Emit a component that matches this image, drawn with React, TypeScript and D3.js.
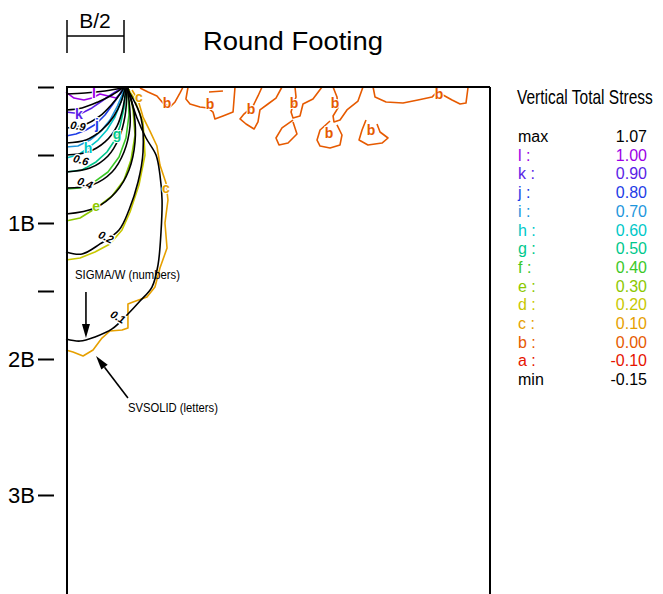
import React, { useRef, useEffect } from 'react';
import * as d3 from 'd3';

// offsets and depths are in units of B (footing width)
const yTicks = [0, 0.5, 1, 1.5, 2, 3];
const yTickLabels = ['', '', '1B', '', '2B', '3B'];

// SIGMA/W contours (black, numbered)
const sigma100 = [[0, 0.051], [0.164, 0.044], [0.336, 0.029], [0.483, 0.007]];
const sigma090 = [[0, 0.169], [0.138, 0.154], [0.276, 0.11], [0.397, 0.059], [0.491, 0.007]];
const sigma080 = [[0, 0.301], [0.155, 0.279], [0.293, 0.213], [0.397, 0.125], [0.466, 0.051], [0.5, 0.007]];
const sigma070 = [[0, 0.412], [0.172, 0.39], [0.31, 0.316], [0.414, 0.213], [0.474, 0.11], [0.509, 0.007]];
const sigma060 = [[0, 0.5], [0.19, 0.478], [0.336, 0.404], [0.44, 0.287], [0.491, 0.154], [0.517, 0.007]];
const sigma050 = [[0, 0.625], [0.207, 0.596], [0.362, 0.507], [0.457, 0.375], [0.509, 0.213], [0.526, 0.007]];
const sigma040 = [[0, 0.743], [0.224, 0.721], [0.397, 0.625], [0.5, 0.478], [0.552, 0.287], [0.543, 0.096], [0.526, 0.007]];
const sigma030 = [[0, 0.934], [0.25, 0.89], [0.431, 0.772], [0.543, 0.61], [0.595, 0.404], [0.586, 0.184], [0.534, 0.007]];
const sigma020 = [[0, 1.213], [0.138, 1.228], [0.293, 1.154], [0.457, 1.051], [0.543, 0.904], [0.621, 0.699],
  [0.664, 0.478], [0.647, 0.228], [0.56, 0.059], [0.517, 0.007]];
const sigma010 = [[0, 1.853], [0.121, 1.868], [0.25, 1.838], [0.397, 1.779], [0.534, 1.669], [0.638, 1.574],
  [0.741, 1.471], [0.793, 1.309], [0.819, 1.066], [0.828, 0.831], [0.81, 0.647], [0.776, 0.5], [0.69, 0.375],
  [0.612, 0.228], [0.56, 0.096], [0.526, 0.007]];

// SVSOLID contours (coloured, lettered)
const solidL = [[0, 0.037], [0.069, 0.081], [0.155, 0.096], [0.224, 0.081], [0.293, 0.051], [0.362, 0.066],
  [0.431, 0.081], [0.483, 0.037], [0.5, 0.007]];
const solidK = [[0, 0.184], [0.069, 0.191], [0.138, 0.191], [0.224, 0.154], [0.31, 0.103], [0.397, 0.051], [0.466, 0.015]];
const solidJ = [[0, 0.36], [0.086, 0.346], [0.172, 0.316], [0.259, 0.272], [0.336, 0.206], [0.405, 0.125],
  [0.457, 0.059], [0.491, 0.015]];
const solidI = [[0, 0.441], [0.103, 0.434], [0.207, 0.39], [0.302, 0.324], [0.379, 0.243], [0.44, 0.147],
  [0.483, 0.059], [0.5, 0.007]];
const solidH = [[0, 0.522], [0.103, 0.5], [0.19, 0.449], [0.276, 0.39], [0.353, 0.316], [0.422, 0.221],
  [0.474, 0.11], [0.509, 0.015]];
const solidG = [[0, 0.625], [0.138, 0.61], [0.259, 0.551], [0.353, 0.478], [0.422, 0.39], [0.466, 0.287],
  [0.5, 0.154], [0.517, 0.015]];
const solidF = [[0, 0.75], [0.121, 0.743], [0.241, 0.699], [0.362, 0.625], [0.457, 0.515], [0.517, 0.375],
  [0.543, 0.206], [0.534, 0.015]];
const solidE = [[0, 0.985], [0.121, 0.963], [0.259, 0.89], [0.397, 0.801], [0.5, 0.684], [0.56, 0.537],
  [0.595, 0.353], [0.578, 0.169], [0.543, 0.015]];
const solidD = [[0, 1.272], [0.121, 1.257], [0.25, 1.213], [0.379, 1.154], [0.483, 1.051], [0.552, 0.919],
  [0.629, 0.721], [0.681, 0.5], [0.664, 0.257], [0.586, 0.081], [0.534, 0.015]];
const solidC = [[0, 1.934], [0.06, 1.949], [0.147, 1.978], [0.233, 1.934], [0.31, 1.846], [0.379, 1.794],
  [0.483, 1.787], [0.534, 1.772], [0.534, 1.596], [0.578, 1.581], [0.698, 1.544], [0.767, 1.471], [0.81, 1.331],
  [0.871, 1.184], [0.853, 1.0], [0.879, 0.831], [0.862, 0.706], [0.81, 0.574], [0.784, 0.434], [0.724, 0.324],
  [0.664, 0.221], [0.621, 0.096], [0.569, 0.022]];
const solidB1 = [[0.638, 0.007], [0.707, 0.037], [0.784, 0.066], [0.836, 0.118], [0.897, 0.147], [0.94, 0.11],
  [0.983, 0.044], [1.009, 0]];
const solidB2 = [[1.052, 0], [1.034, 0.088], [1.069, 0.125], [1.155, 0.147], [1.224, 0.154], [1.267, 0.184],
  [1.284, 0.235], [1.353, 0.213], [1.44, 0.184], [1.457, 0]];
const solidB2a = [[1.233, 0.037], [1.353, 0.029]];
const solidB3 = [[1.69, 0], [1.655, 0.066], [1.612, 0.14], [1.534, 0.199], [1.5, 0.235], [1.552, 0.272],
  [1.621, 0.309], [1.655, 0.257], [1.672, 0.169], [1.741, 0.125], [1.81, 0.081], [1.862, 0]];
const solidB4 = [[1.974, 0], [1.983, 0.074], [1.957, 0.132], [1.94, 0.184], [1.957, 0.228], [2.017, 0.213],
  [2.043, 0.125], [2.129, 0.088], [2.207, 0]];
const solidB4a = [[1.957, 0.243], [1.862, 0.301], [1.81, 0.375], [1.836, 0.426], [1.914, 0.412], [1.991, 0.346],
  [1.957, 0.257]];
const solidB5 = [[2.302, 0], [2.336, 0.074], [2.345, 0.154], [2.302, 0.213], [2.31, 0.257], [2.362, 0.243],
  [2.422, 0.169], [2.517, 0.103], [2.56, 0]];
const solidB5a = [[2.276, 0.25], [2.19, 0.316], [2.164, 0.39], [2.19, 0.434], [2.276, 0.449], [2.362, 0.426],
  [2.379, 0.353], [2.336, 0.279]];
const solidB6 = [[2.647, 0], [2.664, 0.074], [2.759, 0.11], [2.905, 0.118], [3.034, 0.096], [3.155, 0.074],
  [3.198, 0.037], [3.25, 0.059], [3.328, 0.096], [3.397, 0.125], [3.448, 0.118], [3.466, 0]];
const solidB7 = [[2.586, 0.243], [2.552, 0.316], [2.526, 0.39], [2.603, 0.426], [2.724, 0.412], [2.776, 0.375],
  [2.707, 0.331], [2.681, 0.272]];

// contour labels
const sigmaLabels = ['0.9', '0.6', '0.4', '0.2', '0.1'];
const sigmaLabelPos = [[0.103, 0.287], [0.129, 0.537], [0.164, 0.706], [0.345, 1.103], [0.448, 1.691]];
const letterLabels = ['l', 'k', 'j', 'h', 'g', 'e', 'c', 'c', 'b', 'b', 'b', 'b', 'b', 'b', 'b', 'b'];
const letterLabelPos = [[0.241, 0.044], [0.112, 0.199], [0.267, 0.272], [0.19, 0.449], [0.44, 0.346],
  [0.259, 0.875], [0.862, 0.743], [0.629, 0.074], [0.871, 0.118], [1.241, 0.125], [1.595, 0.162],
  [1.966, 0.118], [2.319, 0.118], [2.267, 0.338], [2.629, 0.316], [3.215, 0.051]];

// legend
const legendNames = ['max', 'l', 'k', 'j', 'i', 'h', 'g', 'f', 'e', 'd', 'c', 'b', 'a', 'min'];
const legendValues = ['1.07', '1.00', '0.90', '0.80', '0.70', '0.60', '0.50', '0.40', '0.30', '0.20', '0.10', '0.00', '-0.10', '-0.15'];

const colors = {
  max: '#000', l: '#9c00e6', k: '#5a1ee6', j: '#1e3ce6', i: '#1e96dc', h: '#00c8c8', g: '#00c88c',
  f: '#3cc828', e: '#8cc800', d: '#c8c800', c: '#e6a000', b: '#e65a00', a: '#e61400', min: '#000'
};

const sigmaLines = [sigma100, sigma090, sigma080, sigma070, sigma060, sigma050, sigma040, sigma030, sigma020, sigma010];
const solidLines = [
  { key: 'l', pts: solidL }, { key: 'k', pts: solidK }, { key: 'j', pts: solidJ }, { key: 'i', pts: solidI },
  { key: 'h', pts: solidH }, { key: 'g', pts: solidG }, { key: 'f', pts: solidF }, { key: 'e', pts: solidE },
  { key: 'd', pts: solidD }, { key: 'c', pts: solidC }, { key: 'b', pts: solidB1 }, { key: 'b', pts: solidB2 },
  { key: 'b', pts: solidB2a }, { key: 'b', pts: solidB3 }, { key: 'b', pts: solidB4 }, { key: 'b', pts: solidB4a },
  { key: 'b', pts: solidB5 }, { key: 'b', pts: solidB5a }, { key: 'b', pts: solidB6 }, { key: 'b', pts: solidB7 }
];

const sigmaArrow = [[0.172, 1.507], [0.172, 1.846]];
const solidArrow = [[0.534, 2.287], [0.259, 1.978]];

const App = () => {
  const ref = useRef(null);

  useEffect(() => {
    const root = d3.select(ref.current);
    root.selectAll('*').remove();
    const width = 663, height = 594;
    const font = "'Liberation Sans', Arial, Helvetica, sans-serif";

    const svg = root.append('svg')
      .attr('width', width)
      .attr('height', height)
      .style('display', 'block')
      .style('font-family', font);

    const x = d3.scaleLinear().domain([0, 3.655]).range([66, 490]);
    const y = d3.scaleLinear().domain([0, 3.728]).range([87, 594]);

    // title and B/2 dimension
    svg.append('text').attr('x', 203).attr('y', 50).attr('font-size', 25)
      .attr('textLength', 180).attr('lengthAdjust', 'spacingAndGlyphs').text('Round Footing');
    const dim = svg.append('g').attr('stroke', '#000').attr('stroke-width', 1.5);
    dim.append('line').attr('x1', x(0) + 1).attr('x2', x(0) + 1).attr('y1', 20).attr('y2', 53);
    dim.append('line').attr('x1', x(0.5)).attr('x2', x(0.5)).attr('y1', 20).attr('y2', 53);
    dim.append('line').attr('x1', x(0) + 1).attr('x2', x(0.5)).attr('y1', 36).attr('y2', 36);
    svg.append('text').attr('x', (x(0) + x(0.5)) / 2).attr('y', 28).attr('font-size', 21)
      .attr('text-anchor', 'middle').text('B/2');

    // contours
    const smooth = d3.line().x(d => x(d[0])).y(d => y(d[1])).curve(d3.curveCatmullRom.alpha(0.5));
    const jagged = d3.line().x(d => x(d[0])).y(d => y(d[1]));

    svg.append('g').selectAll('path').data(solidLines).join('path')
      .attr('d', d => jagged(d.pts))
      .attr('fill', 'none')
      .attr('stroke', d => colors[d.key])
      .attr('stroke-width', 1.6)
      .attr('stroke-linejoin', 'round');

    svg.append('g').selectAll('path').data(sigmaLines).join('path')
      .attr('d', d => smooth(d))
      .attr('fill', 'none')
      .attr('stroke', '#000')
      .attr('stroke-width', 1.6);

    svg.append('g').selectAll('text').data(sigmaLabels).join('text')
      .attr('transform', (d, i) => `translate(${x(sigmaLabelPos[i][0])},${y(sigmaLabelPos[i][1])}) rotate(${10 + i * 5})`)
      .attr('text-anchor', 'middle')
      .attr('dy', '0.35em')
      .attr('font-size', 11)
      .attr('font-style', 'italic')
      .attr('font-weight', 'bold')
      .attr('stroke', '#fff').attr('stroke-width', 3).attr('paint-order', 'stroke')
      .text(d => d);

    svg.append('g').selectAll('text').data(letterLabels).join('text')
      .attr('x', (d, i) => x(letterLabelPos[i][0]))
      .attr('y', (d, i) => y(letterLabelPos[i][1]))
      .attr('text-anchor', 'middle')
      .attr('dy', '0.35em')
      .attr('font-size', 14)
      .attr('font-weight', 'bold')
      .attr('fill', d => colors[d])
      .attr('stroke', '#fff').attr('stroke-width', 2).attr('paint-order', 'stroke')
      .text(d => d);

    // frame
    const frame = svg.append('g').attr('stroke', '#000').attr('stroke-width', 2);
    frame.append('line').attr('x1', x(0)).attr('x2', x(3.655)).attr('y1', y(0)).attr('y2', y(0));
    frame.append('line').attr('x1', x(0) + 1).attr('x2', x(0) + 1).attr('y1', y(0)).attr('y2', y(3.728));
    frame.append('line').attr('x1', x(3.655)).attr('x2', x(3.655)).attr('y1', y(0)).attr('y2', y(3.728));

    // depth axis, ticks set off to the left of the frame
    const axis = svg.append('g').attr('transform', 'translate(54,0)')
      .call(d3.axisLeft(y).tickValues(yTicks).tickSize(16).tickPadding(3).tickFormat((d, i) => yTickLabels[i]));
    axis.select('.domain').remove();
    axis.selectAll('line').attr('stroke', '#000').attr('stroke-width', 2);
    axis.selectAll('text').attr('font-size', 22).attr('font-family', font).attr('fill', '#000');

    // annotations
    const drawArrow = (pts) => {
      const [x1, y1] = [x(pts[0][0]), y(pts[0][1])];
      const [x2, y2] = [x(pts[1][0]), y(pts[1][1])];
      const a = Math.atan2(y2 - y1, x2 - x1);
      const len = 14, hw = 4;
      const bx = x2 - len * Math.cos(a), by = y2 - len * Math.sin(a);
      svg.append('line').attr('x1', x1).attr('y1', y1).attr('x2', bx).attr('y2', by)
        .attr('stroke', '#000').attr('stroke-width', 1.6);
      svg.append('path')
        .attr('d', `M${x2},${y2}L${bx - hw * Math.sin(a)},${by + hw * Math.cos(a)}L${bx + hw * Math.sin(a)},${by - hw * Math.cos(a)}Z`)
        .attr('fill', '#000');
    };
    drawArrow(sigmaArrow);
    drawArrow(solidArrow);
    svg.append('text').attr('x', x(0.078)).attr('y', y(1.412)).attr('font-size', 12)
      .attr('textLength', 105).attr('lengthAdjust', 'spacingAndGlyphs').text('SIGMA/W (numbers)');
    svg.append('text').attr('x', x(0.534)).attr('y', y(2.39)).attr('font-size', 12)
      .attr('textLength', 90).attr('lengthAdjust', 'spacingAndGlyphs').text('SVSOLID (letters)');

    // legend
    const legend = svg.append('g');
    legend.append('text').attr('transform', 'translate(517,104) scale(1,1.35)').attr('font-size', 15.5)
      .text('Vertical Total Stress');
    const rows = legend.selectAll('g.row').data(legendNames).join('g')
      .attr('class', 'row')
      .attr('transform', (d, i) => `translate(0,${142 + i * 18.7})`);
    rows.append('text').attr('x', 518).attr('font-size', 16)
      .attr('fill', d => colors[d])
      .text(d => (d === 'max' || d === 'min') ? d : `${d} :`);
    rows.append('text').attr('x', 647).attr('font-size', 16).attr('text-anchor', 'end')
      .attr('fill', d => colors[d])
      .text((d, i) => legendValues[i]);
  }, []);

  return <div ref={ref} style={{ position: 'absolute', left: 0, top: 0 }}></div>;
};

export default App;
